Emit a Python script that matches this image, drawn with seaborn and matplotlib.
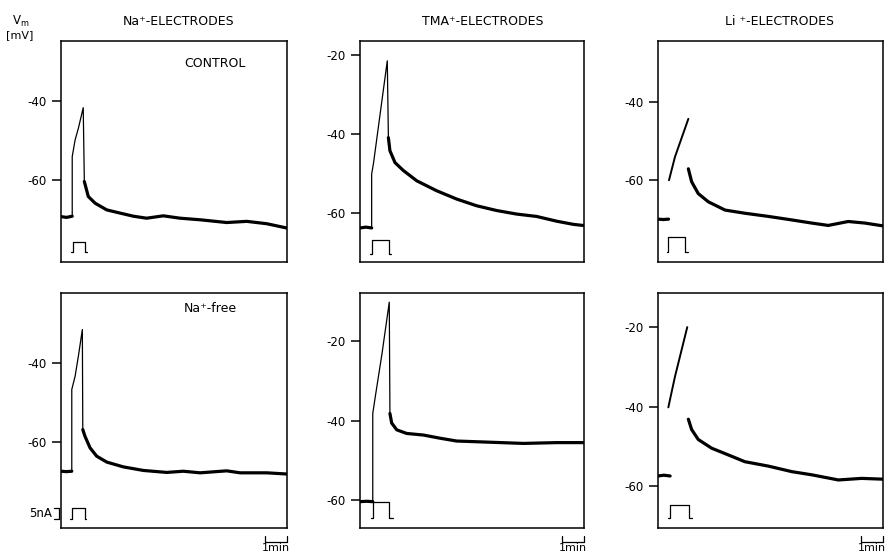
import numpy as np
import pandas as pd
import seaborn as sns
import matplotlib.pyplot as plt

# time in minutes from the left edge of each panel, membrane potential in mV
# --- Na+ electrodes, control
na_ctrl_base_t = [0, 0.25, 0.51]
na_ctrl_base_v = [-69.3, -69.5, -69.2]
na_ctrl_spike_t = [0.51, 0.51, 0.64, 0.79, 1.01, 1.06]
na_ctrl_spike_v = [-69.2, -54.1, -49.9, -46.9, -41.7, -60.4]
na_ctrl_decay_t = [1.06, 1.24, 1.55, 2.08, 2.68, 3.29, 3.89, 4.65, 5.41, 6.32, 7.53, 8.44, 9.35, 10.27]
na_ctrl_decay_v = [-60.4, -64.2, -65.9, -67.6, -68.4, -69.2, -69.7, -69.1, -69.7, -70.1, -70.8, -70.5, -71.1, -72.2]
na_ctrl_pulse_t = [0.45, 0.53, 1.09, 1.17]
na_ctrl_pulse_v = [-78.2, -75.7]

# --- TMA+ electrodes, control
tma_ctrl_base_t = [0, 0.27, 0.53]
tma_ctrl_base_v = [-63.7, -63.5, -63.7]
tma_ctrl_spike_t = [0.53, 0.53, 0.61, 1.24, 1.29]
tma_ctrl_spike_v = [-63.7, -50.1, -47.5, -21.5, -40.9]
tma_ctrl_decay_t = [1.29, 1.36, 1.59, 1.97, 2.58, 3.48, 4.39, 5.30, 6.21, 7.12, 8.03, 8.94, 9.70, 10.18]
tma_ctrl_decay_v = [-40.9, -44.2, -47.2, -49.2, -51.8, -54.3, -56.4, -58.1, -59.3, -60.2, -60.8, -62.0, -62.8, -63.1]
tma_ctrl_pulse_t = [0.45, 0.53, 1.33, 1.40]
tma_ctrl_pulse_v = [-70.2, -66.7]

# --- Li+ electrodes, control (trace blanked during the pulse)
li_ctrl_base_t = [0, 0.25, 0.48]
li_ctrl_base_v = [-69.9, -70.0, -69.9]
li_ctrl_spike_t = [0.50, 0.77, 1.38]
li_ctrl_spike_v = [-60.0, -54.1, -44.4]
li_ctrl_decay_t = [1.38, 1.53, 1.83, 2.29, 3.05, 3.95, 5.01, 6.08, 6.99, 7.74, 8.65, 9.41, 10.21]
li_ctrl_decay_v = [-57.1, -60.4, -63.4, -65.5, -67.6, -68.4, -69.2, -70.1, -70.9, -71.5, -70.5, -70.9, -71.6]
li_ctrl_pulse_t = [0.42, 0.47, 1.23, 1.38]
li_ctrl_pulse_v = [-78.2, -74.5]

# --- Na+ electrodes, Na+-free
na_free_base_t = [0, 0.25, 0.49]
na_free_base_v = [-67.3, -67.4, -67.3]
na_free_spike_t = [0.49, 0.49, 0.64, 0.79, 0.97, 0.99]
na_free_spike_v = [-67.3, -46.7, -43.4, -38.3, -31.6, -56.8]
na_free_decay_t = [0.99, 1.09, 1.32, 1.62, 2.08, 2.83, 3.74, 4.80, 5.56, 6.32, 7.53, 8.14, 9.35, 10.26]
na_free_decay_v = [-56.8, -58.5, -61.4, -63.5, -65.0, -66.2, -67.1, -67.6, -67.3, -67.7, -67.2, -67.7, -67.7, -68.0]
na_free_pulse_t = [0.41, 0.49, 1.09, 1.14]
na_free_pulse_v = [-79.3, -76.5]

# --- TMA+ electrodes, Na+-free
tma_free_base_t = [0, 0.30, 0.58]
tma_free_base_v = [-60.3, -60.2, -60.3]
tma_free_spike_t = [0.58, 0.58, 0.70, 1.00, 1.33, 1.36]
tma_free_spike_v = [-60.3, -38.2, -33.8, -23.2, -10.3, -38.2]
tma_free_decay_t = [1.36, 1.44, 1.67, 2.12, 2.88, 3.64, 4.39, 5.91, 7.42, 8.94, 10.18]
tma_free_decay_v = [-38.2, -40.6, -42.3, -43.2, -43.6, -44.4, -45.1, -45.4, -45.7, -45.5, -45.5]
tma_free_pulse_t = [0.50, 0.61, 1.33, 1.52]
tma_free_pulse_v = [-64.4, -60.5]

# --- Li+ electrodes, Na+-free
li_free_base_t = [0, 0.27, 0.55]
li_free_base_v = [-57.5, -57.3, -57.5]
li_free_spike_t = [0.47, 0.77, 1.33]
li_free_spike_v = [-40.2, -32.5, -20.0]
li_free_decay_t = [1.38, 1.53, 1.83, 2.44, 3.20, 3.95, 5.01, 6.08, 6.99, 8.20, 9.26, 10.23]
li_free_decay_v = [-43.2, -45.8, -48.3, -50.5, -52.2, -53.9, -55.0, -56.4, -57.2, -58.5, -58.1, -58.3]
li_free_pulse_t = [0.44, 0.55, 1.41, 1.53]
li_free_pulse_v = [-68.1, -64.8]

titles = ["Na⁺-ELECTRODES", "TMA⁺-ELECTRODES", "Li ⁺-ELECTRODES"]
conditions = ["CONTROL", "Na⁺-free"]
y_limits = [(-80.8, -24.8), (-72.3, -16.5), (-80.8, -24.6),
            (-81.6, -22.4), (-66.9, -8.0), (-70.6, -11.4)]
y_ticks = [[-40, -60], [-20, -40, -60], [-40, -60],
           [-40, -60], [-20, -40, -60], [-20, -40, -60]]
x_max = [10.27, 10.18, 10.23]
scale_min = 1.0
scale_na = 5

panels = [
    (na_ctrl_base_t, na_ctrl_base_v, na_ctrl_spike_t, na_ctrl_spike_v, na_ctrl_decay_t, na_ctrl_decay_v, na_ctrl_pulse_t, na_ctrl_pulse_v, "fast"),
    (tma_ctrl_base_t, tma_ctrl_base_v, tma_ctrl_spike_t, tma_ctrl_spike_v, tma_ctrl_decay_t, tma_ctrl_decay_v, tma_ctrl_pulse_t, tma_ctrl_pulse_v, "fast"),
    (li_ctrl_base_t, li_ctrl_base_v, li_ctrl_spike_t, li_ctrl_spike_v, li_ctrl_decay_t, li_ctrl_decay_v, li_ctrl_pulse_t, li_ctrl_pulse_v, "mid"),
    (na_free_base_t, na_free_base_v, na_free_spike_t, na_free_spike_v, na_free_decay_t, na_free_decay_v, na_free_pulse_t, na_free_pulse_v, "fast"),
    (tma_free_base_t, tma_free_base_v, tma_free_spike_t, tma_free_spike_v, tma_free_decay_t, tma_free_decay_v, tma_free_pulse_t, tma_free_pulse_v, "fast"),
    (li_free_base_t, li_free_base_v, li_free_spike_t, li_free_spike_v, li_free_decay_t, li_free_decay_v, li_free_pulse_t, li_free_pulse_v, "mid"),
]

sns.set_style("ticks", {"text.color": "black", "axes.labelcolor": "black",
                        "xtick.color": "black", "ytick.color": "black",
                        "axes.edgecolor": "black"})
plt.rcParams["font.family"] = ["DejaVu Sans"]
plt.rcParams["axes.unicode_minus"] = False

fig = plt.figure(figsize=(8.85, 5.57), dpi=100)

W, H = 885, 557
col_px = [(61, 287), (360, 584), (658, 883)]
row_px = [(41, 262), (293, 528)]

line_sizes = {"slow": 2.3, "mid": 1.4, "fast": 0.9, "pulse": 0.9}

for i, p in enumerate(panels):
    r, c = divmod(i, 3)
    x0, x1 = col_px[c]
    y0, y1 = row_px[r]
    ax = fig.add_axes([x0 / W, 1 - y1 / H, (x1 - x0) / W, (y1 - y0) / H])

    bt, bv, st, sv, dt, dv, pt, pv, spike_kind = p
    lo, hi = pv
    pulse_t = [pt[0], pt[1], pt[1], pt[2], pt[2], pt[3]]
    pulse_v = [lo, lo, hi, hi, lo, lo]

    parts = []
    for name, tt, vv, kind in [("base", bt, bv, "slow"), ("spike", st, sv, spike_kind),
                               ("decay", dt, dv, "slow"), ("pulse", pulse_t, pulse_v, "pulse")]:
        parts.append(pd.DataFrame({"t": tt, "v": vv, "seg": name, "kind": kind,
                                   "order": np.arange(len(tt))}))
    df = pd.concat(parts, ignore_index=True)

    sns.lineplot(data=df, x="t", y="v", units="seg", estimator=None, sort=False,
                 size="kind", sizes=line_sizes, color="black", legend=False, ax=ax)

    ax.set_xlim(0, x_max[c])
    ax.set_ylim(*y_limits[i])
    ax.set_xticks([])
    ax.set_yticks(y_ticks[i])
    ax.set_yticklabels([str(v) for v in y_ticks[i]])
    ax.set_xlabel("")
    ax.set_ylabel("")
    for s in ax.spines.values():
        s.set_visible(True)
        s.set_linewidth(1.1)
        s.set_color("black")
    ax.tick_params(axis="y", length=6.5, width=1.1, pad=3.5, labelsize=8.5, colors="black")

    if r == 0:
        ax.text(0.52 + (0.03 if c == 1 else 0) + (0.02 if c == 2 else 0), 1.09, titles[c],
                transform=ax.transAxes, ha="center", va="center", fontsize=9, color="black")

    if r == 1:
        tr = ax.get_xaxis_transform()
        xm = x_max[c]
        ax.plot([xm - scale_min, xm - scale_min, xm, xm], [-0.035, -0.058, -0.058, -0.035],
                transform=tr, color="black", lw=0.9, clip_on=False)
        ax.text(xm - scale_min / 2, -0.064, "1min", transform=tr, ha="center", va="top",
                fontsize=8, color="black")

    if i == 0:
        ax.text(0.68, 0.90, conditions[0], transform=ax.transAxes, ha="center", va="center",
                fontsize=9, color="black")
    if i == 3:
        ax.text(0.66, 0.935, conditions[1], transform=ax.transAxes, ha="center", va="center",
                fontsize=9, color="black")
        # current calibration bracket = pulse amplitude
        ax.plot([-0.32, -0.08, -0.08, -0.32], [hi, hi, lo, lo], color="black", lw=0.9,
                clip_on=False)
        ax.text(-0.42, (lo + hi) / 2, f"{scale_na}nA", ha="right", va="center", fontsize=8.5,
                color="black")

fig.text(0.023, 0.962, r"V$_\mathrm{m}$", ha="center", va="center", fontsize=8.5, color="black")
fig.text(0.022, 0.937, "[mV]", ha="center", va="center", fontsize=8, color="black")

fig.savefig("out.png", dpi=100)
